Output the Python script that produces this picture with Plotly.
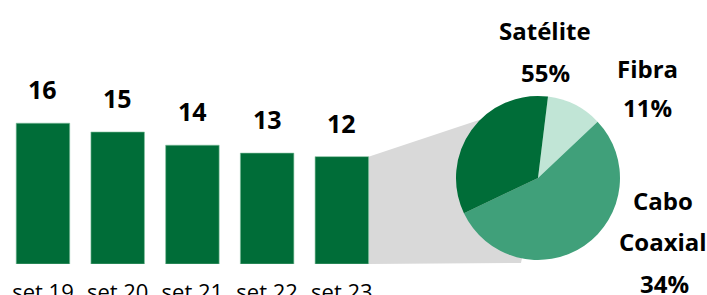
import plotly.graph_objects as go

# ---------------- data ----------------
months = ["set 19", "set 20", "set 21", "set 22", "set 23"]
subscribers = [16.0, 15.0, 13.5, 12.6, 12.2]
bar_labels = ["16", "15", "14", "13", "12"]

tech_labels = ["Fibra", "Satélite", "Cabo Coaxial"]
tech_share = [11, 55, 34]

# label texts for pie (as they appear)
pie_text_lines = [
    ("Satélite", 545, 30), ("55%", 545, 72),
    ("Fibra", 647, 68), ("11%", 647, 108),
    ("Cabo", 663, 200), ("Coaxial", 663, 241), ("34%", 664, 283),
]

# ---------------- layout geometry ----------------
W, H = 707, 295
ML, MR, MT, MB = 0, 0, 0, 31
PW, PH = W - ML - MR, H - MT - MB

def px(x):
    return (x - ML) / PW

def py(y):
    return (H - MB - y) / PH

DARK = "#006d38"
MED = "#40a07a"
LIGHT = "#c1e5d6"
GRAY = "#d9d9d9"
FONT = "Open Sans"

x_dom = [px(5.6), px(379.2)]
y_range = [0, 30]
bargap = 0.284

pie_cx, pie_cy, pie_r = 538, 178, 82

fig = go.Figure()
fig.add_trace(go.Bar(
    x=months, y=subscribers,
    marker=dict(color=DARK, line=dict(color="#7fbf9c", width=0.6)),
    hoverinfo="skip", showlegend=False,
))
fig.add_trace(go.Pie(
    labels=tech_labels, values=tech_share,
    sort=False, direction="clockwise", rotation=7,
    marker=dict(colors=[LIGHT, MED, DARK], line=dict(width=0)),
    textinfo="none", hoverinfo="label+percent", showlegend=False,
    domain=dict(x=[px(pie_cx - pie_r), px(pie_cx + pie_r)],
                y=[py(pie_cy + pie_r), py(pie_cy - pie_r)]),
))

annotations = []
for m, v, t in zip(months, subscribers, bar_labels):
    annotations.append(dict(
        x=m, y=v, xref="x", yref="y", text=t, showarrow=False,
        yanchor="middle", yshift=34,
        font=dict(family=FONT, size=25, color="#000000", weight="bold"),
    ))
for t, x, y in pie_text_lines:
    annotations.append(dict(
        x=px(x), y=py(y), xref="paper", yref="paper", text=t, showarrow=False,
        xanchor="center", yanchor="middle",
        font=dict(family=FONT, size=24, color="#000000", weight="bold"),
    ))

# connector (bar-of-pie) polygon, from last bar's corner to pie
last_idx = len(months) - 1
bar_right_data = last_idx + (1 - bargap) / 2
x0px = x_dom[0] * PW + ML
x1px = x_dom[1] * PW + ML
bar_right_px = x0px + (bar_right_data + 0.5) / len(months) * (x1px - x0px)
bar_top_px = H - MB - subscribers[-1] / y_range[1] * PH
bar_bot_px = H - MB
path = (f"M {px(bar_right_px)} {py(bar_top_px)} "
        f"L {px(485)} {py(118)} L {px(pie_cx)} {py(pie_cy)} "
        f"L {px(521)} {py(263)} L {px(bar_right_px)} {py(bar_bot_px)} Z")

fig.update_layout(
    width=W, height=H,
    margin=dict(l=ML, r=MR, t=MT, b=MB, autoexpand=False),
    paper_bgcolor="white", plot_bgcolor="white",
    bargap=bargap,
    xaxis=dict(domain=x_dom, showgrid=False, zeroline=False, showline=False,
               automargin=False,
               ticks="", tickfont=dict(family=FONT, size=22, color="#000000"),
               ticklabelstandoff=13),
    yaxis=dict(range=y_range, visible=False, automargin=False),
    annotations=annotations,
    shapes=[dict(type="path", path=path, xref="paper", yref="paper",
                 fillcolor=GRAY, line=dict(width=0), layer="below")],
)

fig.write_html("out.html", config={"displayModeBar": False},
               post_script="document.body.style.margin='0';document.body.style.overflow='hidden';")
